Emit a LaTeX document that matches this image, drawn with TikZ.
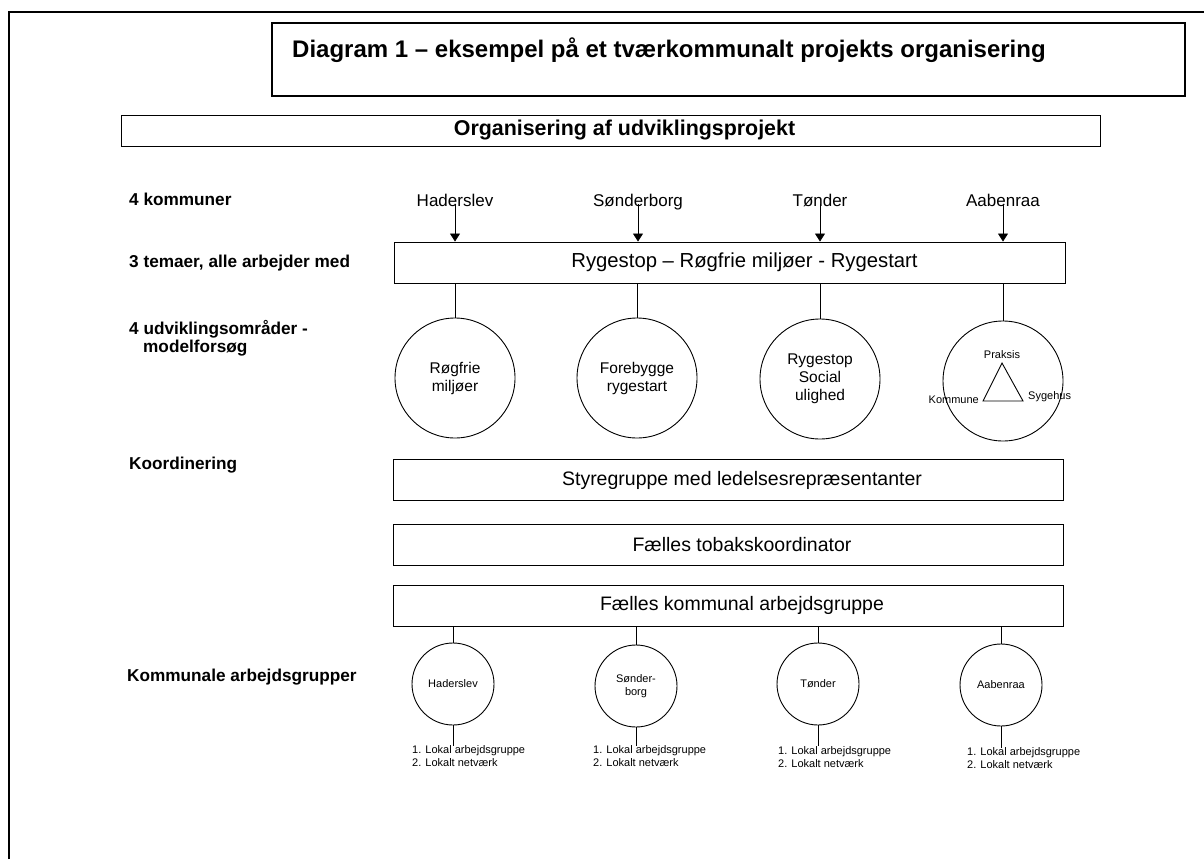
\documentclass[tikz,border=0pt]{standalone}
\usepackage{fontspec}
\setmainfont{Liberation Sans}
\usetikzlibrary{arrows.meta,calc}
\newcommand{\skrift}[2]{\fontsize{#1}{#2}\selectfont}

\begin{document}
\begin{tikzpicture}[x=1pt,y=-1pt,
    kasse/.style={draw,line width=0.9pt,inner sep=0pt,minimum width=670,minimum height=41,font=\skrift{19.5}{22}},
    kreds/.style={draw,circle,line width=0.9pt,inner sep=0pt,minimum size=120,align=center,font=\skrift{15.5}{18}},
    lillekreds/.style={draw,circle,line width=0.9pt,inner sep=0pt,minimum size=82,align=center,font=\skrift{11}{13}},
    venstre/.style={anchor=base west,inner sep=0pt,align=left,font=\bfseries\skrift{17.2}{18}},
    kommune/.style={anchor=base,inner sep=0pt,font=\skrift{17}{20}},
    note/.style={anchor=north west,inner sep=0pt,align=left,font=\skrift{11}{13.5}},
    pil/.style={-{Triangle[width=10pt,length=8pt]},line width=0.7pt}]
  \useasboundingbox (0,0) rectangle (1204,859);
  % ramme
  \draw[line width=1.5pt] (9,859) -- (9,12) -- (1204,12);
  % overskrifter
  \node[draw,line width=1.2pt,inner sep=0pt,minimum width=913,minimum height=73] (titel) at (728.5,59.5) {};
  \node[anchor=base west,inner sep=0pt,font=\bfseries\skrift{24}{26}] (titeltekst) at (292,57)
    {Diagram 1 -- eksempel på et tværkommunalt projekts organisering};
  \node[draw,line width=0.9pt,inner sep=0pt,minimum width=979,minimum height=31,font=\bfseries\skrift{21.4}{24}] (org) at (610.5,130.5)
    {\hspace*{28pt}Organisering af udviklingsprojekt};
  % venstre spalte
  \node[venstre] (v1) at (129,205) {4 kommuner};
  \node[venstre] (v2) at (129,267) {3 temaer, alle arbejder med};
  \node[venstre] (v3) at (129,352) {4 udviklingsområder -\\\hspace*{14pt}modelforsøg};
  \node[venstre] (v4) at (129,469) {Koordinering};
  \node[venstre] (v5) at (127,681) {Kommunale arbejdsgrupper};
  % kommuner
  \node[kommune] (m1) at (455,206) {Haderslev};
  \node[kommune] (m2) at (638,206) {Sønderborg};
  \node[kommune] (m3) at (820,206) {Tønder};
  \node[kommune] (m4) at (1003,206) {Aabenraa};
  \node[kasse,minimum width=671,font=\skrift{20.3}{22}] (rs) at (729.5,262.5) {\hspace*{30pt}Rygestop -- Røgfrie miljøer - Rygestart};
  % udviklingsområder
  \node[kreds] (c1) at (455,378) {Røgfrie\\miljøer};
  \node[kreds] (c2) at (637,378) {Forebygge\\rygestart};
  \node[kreds] (c3) at (820,379) {Rygestop\\Social\\ulighed};
  \node[kreds] (c4) at (1003,381) {};
  \coordinate (tp) at (1002,363);
  \coordinate (tk) at (983,401);
  \coordinate (ts) at (1023,401);
  \draw[line width=0.9pt] (tp) -- (tk) -- (ts) -- cycle;
  \node[anchor=base,inner sep=0pt,font=\skrift{11}{13}] (praksis) at (1002,358) {Praksis};
  \node[anchor=base east,inner sep=0pt,font=\skrift{11}{13}] (kom) at (979,403) {Kommune};
  \node[anchor=base west,inner sep=0pt,font=\skrift{11}{13}] (syg) at (1028,399) {Sygehus};
  % koordinering
  \node[kasse] (sg) at (728,480) {\hspace*{28pt}Styregruppe med ledelsesrepræsentanter};
  \node[kasse] (tb) at (728,544.5) {\hspace*{28pt}Fælles tobakskoordinator};
  \node[kasse] (fk) at (728,605.5) {\hspace*{28pt}Fælles kommunal arbejdsgruppe};
  % kommunale arbejdsgrupper
  \node[lillekreds] (g1) at (453,684) {Haderslev};
  \node[lillekreds] (g2) at (636,686) {Sønder-\\borg};
  \node[lillekreds] (g3) at (818,684) {Tønder};
  \node[lillekreds] (g4) at (1001,685) {Aabenraa};
  \coordinate (e1) at (453,746);
  \coordinate (e2) at (636,746);
  \coordinate (e3) at (818,746);
  \coordinate (e4) at (1001,748);
  \node[note] (n1) at (412,745) {1. Lokal arbejdsgruppe\\2. Lokalt netværk};
  \node[note] (n2) at (593,745) {1. Lokal arbejdsgruppe\\2. Lokalt netværk};
  \node[note] (n3) at (778,746) {1. Lokal arbejdsgruppe\\2. Lokalt netværk};
  \node[note] (n4) at (967,747) {1. Lokal arbejdsgruppe\\2. Lokalt netværk};
  % forbindelser
  \foreach \i in {1,...,4} {
    \draw[pil] ($(m\i.base)+(0,-2)$) -- (m\i.base |- rs.north);
    \draw[line width=0.7pt] (c\i.north |- rs.south) -- (c\i.north);
    \draw[line width=0.7pt] (g\i.north |- fk.south) -- (g\i.north);
    \draw[line width=0.7pt] (g\i.south) -- (e\i);
  }
\end{tikzpicture}
\end{document}
